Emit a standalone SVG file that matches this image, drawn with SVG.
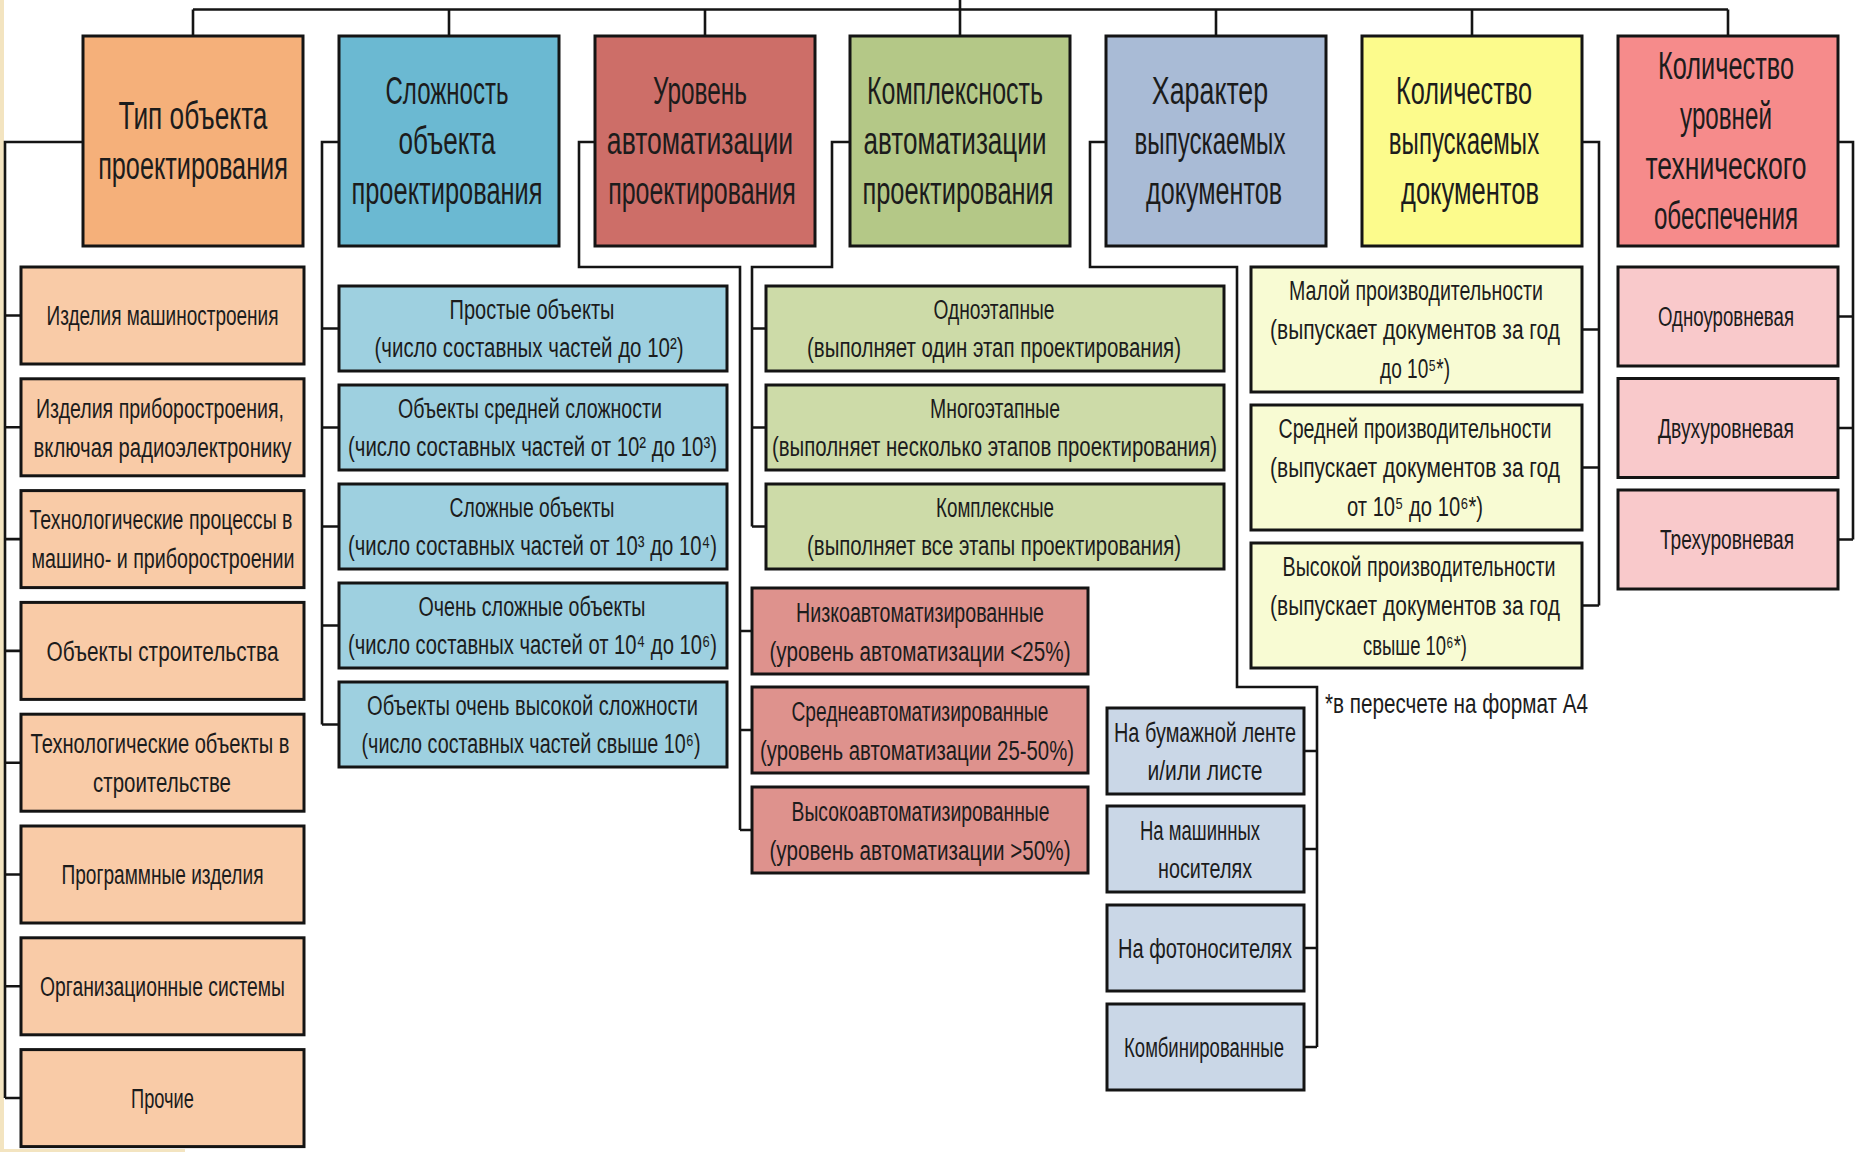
<svg xmlns="http://www.w3.org/2000/svg" width="1865" height="1152" viewBox="0 0 1865 1152">
<style>
text{font-family:"Liberation Sans","DejaVu Sans",sans-serif;fill:#1c1c1c;text-anchor:middle;dominant-baseline:central}
.h{font-size:38px}
.s{font-size:28px}
.b rect{stroke:#141414;stroke-width:3}
.conn{fill:none;stroke:#141414;stroke-width:2.6}
.c1{fill:#F5B07A}.c1s{fill:#F9CBA7}
.c2{fill:#6BB9D2}.c2s{fill:#9ED0E0}
.c3{fill:#CD6E68}.c3s{fill:#DE928D}
.c4{fill:#B4C887}.c4s{fill:#CDDBA8}
.c5{fill:#A9BBD6}.c5s{fill:#CAD7E7}
.c6{fill:#FCFB8C}.c6s{fill:#F8FBD3}
.c7{fill:#F68B8B}.c7s{fill:#F9C9CB}
</style>
<rect width="1865" height="1152" fill="#ffffff"/>
<rect x="0" y="0" width="4" height="1152" fill="#F3E4C0"/>
<rect x="0" y="1149" width="185" height="3" fill="#F3E4C0"/>

<g id="connectors" class="conn">
<path d="M193,9.5 H1728 M960,0 V36 M193,9.5 V36 M449,9.5 V36 M705,9.5 V36 M1216,9.5 V36 M1472,9.5 V36 M1728,9.5 V36"/>
<path d="M83,142 H5 V1098 M5,315.5 H21 M5,427.3 H21 M5,539.1 H21 M5,650.9 H21 M5,762.7 H21 M5,874.5 H21 M5,986.3 H21 M5,1098 H21"/>
<path d="M339,142 H322 V724.5 M322,328.5 H339 M322,427.5 H339 M322,526.5 H339 M322,625.5 H339 M322,724.5 H339"/>
<path d="M595,142 H579 V267 H740 V830 M740,631 H752 M740,730 H752 M740,830 H752"/>
<path d="M850,142 H832 V267 H752 V526.5 M752,328.5 H766 M752,427.5 H766 M752,526.5 H766"/>
<path d="M1106,142 H1090 V267 H1237 V687 H1317 V1047 M1304,751 H1317 M1304,849 H1317 M1304,948 H1317 M1304,1047 H1317"/>
<path d="M1582,142 H1599 V605.5 M1582,329.5 H1599 M1582,467.5 H1599 M1582,605.5 H1599"/>
<path d="M1838,142 H1853 V539.5 M1838,316.5 H1853 M1838,428 H1853 M1838,539.5 H1853"/>
</g>

<g id="n-tip" class="b"><rect class="c1" x="83" y="36" width="220" height="210"/>
<text class="h" transform="matrix(0.68 0 0 1 193 116)" textLength="219" lengthAdjust="spacingAndGlyphs">Тип объекта</text>
<text class="h" transform="matrix(0.68 0 0 1 193 166)" textLength="279" lengthAdjust="spacingAndGlyphs">проектирования</text></g>
<g id="n-slozh" class="b"><rect class="c2" x="339" y="36" width="220" height="210"/>
<text class="h" transform="matrix(0.68 0 0 1 447 91)" textLength="181" lengthAdjust="spacingAndGlyphs">Сложность</text>
<text class="h" transform="matrix(0.68 0 0 1 447 141)" textLength="143" lengthAdjust="spacingAndGlyphs">объекта</text>
<text class="h" transform="matrix(0.68 0 0 1 447 191)" textLength="281" lengthAdjust="spacingAndGlyphs">проектирования</text></g>
<g id="n-uroven" class="b"><rect class="c3" x="595" y="36" width="220" height="210"/>
<text class="h" transform="matrix(0.68 0 0 1 700 91)" textLength="138" lengthAdjust="spacingAndGlyphs">Уровень</text>
<text class="h" transform="matrix(0.68 0 0 1 700 141)" textLength="274" lengthAdjust="spacingAndGlyphs">автоматизации</text>
<text class="h" transform="matrix(0.68 0 0 1 702 191)" textLength="276" lengthAdjust="spacingAndGlyphs">проектирования</text></g>
<g id="n-kompl" class="b"><rect class="c4" x="850" y="36" width="220" height="210"/>
<text class="h" transform="matrix(0.68 0 0 1 955 91)" textLength="259" lengthAdjust="spacingAndGlyphs">Комплексность</text>
<text class="h" transform="matrix(0.68 0 0 1 955 141)" textLength="269" lengthAdjust="spacingAndGlyphs">автоматизации</text>
<text class="h" transform="matrix(0.68 0 0 1 958 191)" textLength="281" lengthAdjust="spacingAndGlyphs">проектирования</text></g>
<g id="n-harakter" class="b"><rect class="c5" x="1106" y="36" width="220" height="210"/>
<text class="h" transform="matrix(0.68 0 0 1 1210 91)" textLength="171" lengthAdjust="spacingAndGlyphs">Характер</text>
<text class="h" transform="matrix(0.68 0 0 1 1210 141)" textLength="222" lengthAdjust="spacingAndGlyphs">выпускаемых</text>
<text class="h" transform="matrix(0.68 0 0 1 1214 191)" textLength="200" lengthAdjust="spacingAndGlyphs">документов</text></g>
<g id="n-kolvo-doc" class="b"><rect class="c6" x="1362" y="36" width="220" height="210"/>
<text class="h" transform="matrix(0.68 0 0 1 1464 91)" textLength="200" lengthAdjust="spacingAndGlyphs">Количество</text>
<text class="h" transform="matrix(0.68 0 0 1 1464 141)" textLength="221" lengthAdjust="spacingAndGlyphs">выпускаемых</text>
<text class="h" transform="matrix(0.68 0 0 1 1470 191)" textLength="203" lengthAdjust="spacingAndGlyphs">документов</text></g>
<g id="n-kolvo-ur" class="b"><rect class="c7" x="1618" y="36" width="220" height="210"/>
<text class="h" transform="matrix(0.68 0 0 1 1726 66)" textLength="200" lengthAdjust="spacingAndGlyphs">Количество</text>
<text class="h" transform="matrix(0.68 0 0 1 1726 116)" textLength="135" lengthAdjust="spacingAndGlyphs">уровней</text>
<text class="h" transform="matrix(0.68 0 0 1 1726 166)" textLength="237" lengthAdjust="spacingAndGlyphs">технического</text>
<text class="h" transform="matrix(0.68 0 0 1 1726 216)" textLength="212" lengthAdjust="spacingAndGlyphs">обеспечения</text></g>

<g id="t1" class="b"><rect class="c1s" x="21" y="267" width="283" height="97"/>
<text class="s" transform="matrix(0.74 0 0 1 162.5 315.5)" textLength="313.5" lengthAdjust="spacingAndGlyphs">Изделия машиностроения</text></g>
<g id="t2" class="b"><rect class="c1s" x="21" y="378.8" width="283" height="97"/>
<text class="s" transform="matrix(0.74 0 0 1 160 408)" textLength="335" lengthAdjust="spacingAndGlyphs">Изделия приборостроения,</text>
<text class="s" transform="matrix(0.74 0 0 1 162.5 447)" textLength="348.6" lengthAdjust="spacingAndGlyphs">включая радиоэлектронику</text></g>
<g id="t3" class="b"><rect class="c1s" x="21" y="490.6" width="283" height="97"/>
<text class="s" transform="matrix(0.74 0 0 1 161 519.5)" textLength="355.4" lengthAdjust="spacingAndGlyphs">Технологические процессы в</text>
<text class="s" transform="matrix(0.74 0 0 1 163 558.5)" textLength="355.4" lengthAdjust="spacingAndGlyphs">машино- и приборостроении</text></g>
<g id="t4" class="b"><rect class="c1s" x="21" y="602.4" width="283" height="97"/>
<text class="s" transform="matrix(0.74 0 0 1 162.5 651)" textLength="313.5" lengthAdjust="spacingAndGlyphs">Объекты строительства</text></g>
<g id="t5" class="b"><rect class="c1s" x="21" y="714.2" width="283" height="97"/>
<text class="s" transform="matrix(0.74 0 0 1 160 743)" textLength="350" lengthAdjust="spacingAndGlyphs">Технологические объекты в</text>
<text class="s" transform="matrix(0.74 0 0 1 162 782)" textLength="186.5" lengthAdjust="spacingAndGlyphs">строительстве</text></g>
<g id="t6" class="b"><rect class="c1s" x="21" y="826" width="283" height="97"/>
<text class="s" transform="matrix(0.74 0 0 1 162.5 874.5)" textLength="273" lengthAdjust="spacingAndGlyphs">Программные изделия</text></g>
<g id="t7" class="b"><rect class="c1s" x="21" y="937.8" width="283" height="97"/>
<text class="s" transform="matrix(0.74 0 0 1 162.5 986.3)" textLength="331" lengthAdjust="spacingAndGlyphs">Организационные системы</text></g>
<g id="t8" class="b"><rect class="c1s" x="21" y="1049.6" width="283" height="97"/>
<text class="s" transform="matrix(0.74 0 0 1 162.5 1098)" textLength="85" lengthAdjust="spacingAndGlyphs">Прочие</text></g>

<g id="s1" class="b"><rect class="c2s" x="339" y="286" width="388" height="85"/>
<text class="s" transform="matrix(0.74 0 0 1 532 309.5)" textLength="223" lengthAdjust="spacingAndGlyphs">Простые объекты</text>
<text class="s" transform="matrix(0.74 0 0 1 529 347.5)" textLength="417.6" lengthAdjust="spacingAndGlyphs">(число составных частей до 10²)</text></g>
<g id="s2" class="b"><rect class="c2s" x="339" y="385" width="388" height="85"/>
<text class="s" transform="matrix(0.74 0 0 1 530 408.5)" textLength="356.8" lengthAdjust="spacingAndGlyphs">Объекты средней сложности</text>
<text class="s" transform="matrix(0.74 0 0 1 532.5 446.5)" textLength="498.6" lengthAdjust="spacingAndGlyphs">(число составных частей от 10² до 10³)</text></g>
<g id="s3" class="b"><rect class="c2s" x="339" y="484" width="388" height="85"/>
<text class="s" transform="matrix(0.74 0 0 1 532 507.5)" textLength="223" lengthAdjust="spacingAndGlyphs">Сложные объекты</text>
<text class="s" transform="matrix(0.74 0 0 1 532.5 545.5)" textLength="498.6" lengthAdjust="spacingAndGlyphs">(число составных частей от 10³ до 10⁴)</text></g>
<g id="s4" class="b"><rect class="c2s" x="339" y="583" width="388" height="85"/>
<text class="s" transform="matrix(0.74 0 0 1 532 606.5)" textLength="306.8" lengthAdjust="spacingAndGlyphs">Очень сложные объекты</text>
<text class="s" transform="matrix(0.74 0 0 1 532.5 644.5)" textLength="498.6" lengthAdjust="spacingAndGlyphs">(число составных частей от 10⁴ до 10⁶)</text></g>
<g id="s5" class="b"><rect class="c2s" x="339" y="682" width="388" height="85"/>
<text class="s" transform="matrix(0.74 0 0 1 532.5 705.5)" textLength="447.3" lengthAdjust="spacingAndGlyphs">Объекты очень высокой сложности</text>
<text class="s" transform="matrix(0.74 0 0 1 531 743.5)" textLength="458" lengthAdjust="spacingAndGlyphs">(число составных частей свыше 10⁶)</text></g>

<g id="k1" class="b"><rect class="c4s" x="766" y="286" width="458" height="85"/>
<text class="s" transform="matrix(0.74 0 0 1 994 309.5)" textLength="163.5" lengthAdjust="spacingAndGlyphs">Одноэтапные</text>
<text class="s" transform="matrix(0.74 0 0 1 994 347.5)" textLength="505.4" lengthAdjust="spacingAndGlyphs">(выполняет один этап проектирования)</text></g>
<g id="k2" class="b"><rect class="c4s" x="766" y="385" width="458" height="85"/>
<text class="s" transform="matrix(0.74 0 0 1 995 408.5)" textLength="175.7" lengthAdjust="spacingAndGlyphs">Многоэтапные</text>
<text class="s" transform="matrix(0.74 0 0 1 994.5 446.5)" textLength="601.4" lengthAdjust="spacingAndGlyphs">(выполняет несколько этапов проектирования)</text></g>
<g id="k3" class="b"><rect class="c4s" x="766" y="484" width="458" height="85"/>
<text class="s" transform="matrix(0.74 0 0 1 995 507.5)" textLength="159.5" lengthAdjust="spacingAndGlyphs">Комплексные</text>
<text class="s" transform="matrix(0.74 0 0 1 994 545.5)" textLength="505.4" lengthAdjust="spacingAndGlyphs">(выполняет все этапы проектирования)</text></g>

<g id="u1" class="b"><rect class="c3s" x="752" y="588" width="336" height="86"/>
<text class="s" transform="matrix(0.74 0 0 1 920 612)" textLength="335" lengthAdjust="spacingAndGlyphs">Низкоавтоматизированные</text>
<text class="s" transform="matrix(0.74 0 0 1 920 651)" textLength="406.8" lengthAdjust="spacingAndGlyphs">(уровень автоматизации &lt;25%)</text></g>
<g id="u2" class="b"><rect class="c3s" x="752" y="687" width="336" height="86"/>
<text class="s" transform="matrix(0.74 0 0 1 920 711)" textLength="347.3" lengthAdjust="spacingAndGlyphs">Среднеавтоматизированные</text>
<text class="s" transform="matrix(0.74 0 0 1 917 750)" textLength="424.3" lengthAdjust="spacingAndGlyphs">(уровень автоматизации 25-50%)</text></g>
<g id="u3" class="b"><rect class="c3s" x="752" y="787" width="336" height="86"/>
<text class="s" transform="matrix(0.74 0 0 1 920.5 811)" textLength="348.6" lengthAdjust="spacingAndGlyphs">Высокоавтоматизированные</text>
<text class="s" transform="matrix(0.74 0 0 1 920 850)" textLength="406.8" lengthAdjust="spacingAndGlyphs">(уровень автоматизации &gt;50%)</text></g>

<g id="h1" class="b"><rect class="c5s" x="1107" y="708" width="197" height="86"/>
<text class="s" transform="matrix(0.74 0 0 1 1205 732)" textLength="246" lengthAdjust="spacingAndGlyphs">На бумажной ленте</text>
<text class="s" transform="matrix(0.74 0 0 1 1205 770)" textLength="155.4" lengthAdjust="spacingAndGlyphs">и/или листе</text></g>
<g id="h2" class="b"><rect class="c5s" x="1107" y="806" width="197" height="86"/>
<text class="s" transform="matrix(0.74 0 0 1 1200 830)" textLength="162.2" lengthAdjust="spacingAndGlyphs">На машинных</text>
<text class="s" transform="matrix(0.74 0 0 1 1205 868)" textLength="127" lengthAdjust="spacingAndGlyphs">носителях</text></g>
<g id="h3" class="b"><rect class="c5s" x="1107" y="905" width="197" height="86"/>
<text class="s" transform="matrix(0.74 0 0 1 1205 948)" textLength="235" lengthAdjust="spacingAndGlyphs">На фотоносителях</text></g>
<g id="h4" class="b"><rect class="c5s" x="1107" y="1004" width="197" height="86"/>
<text class="s" transform="matrix(0.74 0 0 1 1204 1047)" textLength="216.2" lengthAdjust="spacingAndGlyphs">Комбинированные</text></g>

<g id="d1" class="b"><rect class="c6s" x="1251" y="267" width="331" height="125"/>
<text class="s" transform="matrix(0.74 0 0 1 1416 290.5)" textLength="343.2" lengthAdjust="spacingAndGlyphs">Малой производительности</text>
<text class="s" transform="matrix(0.74 0 0 1 1415 329.5)" textLength="391.9" lengthAdjust="spacingAndGlyphs">(выпускает документов за год</text>
<text class="s" transform="matrix(0.74 0 0 1 1415 368)" textLength="94.6" lengthAdjust="spacingAndGlyphs">до 10⁵*)</text></g>
<g id="d2" class="b"><rect class="c6s" x="1251" y="405" width="331" height="125"/>
<text class="s" transform="matrix(0.74 0 0 1 1415 428.5)" textLength="368.9" lengthAdjust="spacingAndGlyphs">Средней производительности</text>
<text class="s" transform="matrix(0.74 0 0 1 1415 467.5)" textLength="391.9" lengthAdjust="spacingAndGlyphs">(выпускает документов за год</text>
<text class="s" transform="matrix(0.74 0 0 1 1415 506.5)" textLength="183.8" lengthAdjust="spacingAndGlyphs">от 10⁵ до 10⁶*)</text></g>
<g id="d3" class="b"><rect class="c6s" x="1251" y="543" width="331" height="125"/>
<text class="s" transform="matrix(0.74 0 0 1 1419 566.5)" textLength="368.9" lengthAdjust="spacingAndGlyphs">Высокой производительности</text>
<text class="s" transform="matrix(0.74 0 0 1 1415 605.5)" textLength="391.9" lengthAdjust="spacingAndGlyphs">(выпускает документов за год</text>
<text class="s" transform="matrix(0.74 0 0 1 1415 645)" textLength="140.5" lengthAdjust="spacingAndGlyphs">свыше 10⁶*)</text></g>

<g id="p1" class="b"><rect class="c7s" x="1618" y="267" width="220" height="99"/>
<text class="s" transform="matrix(0.74 0 0 1 1726 316.5)" textLength="183.8" lengthAdjust="spacingAndGlyphs">Одноуровневая</text></g>
<g id="p2" class="b"><rect class="c7s" x="1618" y="378.5" width="220" height="99"/>
<text class="s" transform="matrix(0.74 0 0 1 1726 428)" textLength="183.8" lengthAdjust="spacingAndGlyphs">Двухуровневая</text></g>
<g id="p3" class="b"><rect class="c7s" x="1618" y="490" width="220" height="99"/>
<text class="s" transform="matrix(0.74 0 0 1 1727 539.5)" textLength="181.1" lengthAdjust="spacingAndGlyphs">Трехуровневая</text></g>

<g id="footnote"><text class="s" transform="matrix(0.74 0 0 1 1325 703)" style="text-anchor:start" textLength="355.4" lengthAdjust="spacingAndGlyphs">*в пересчете на формат А4</text></g>
</svg>
